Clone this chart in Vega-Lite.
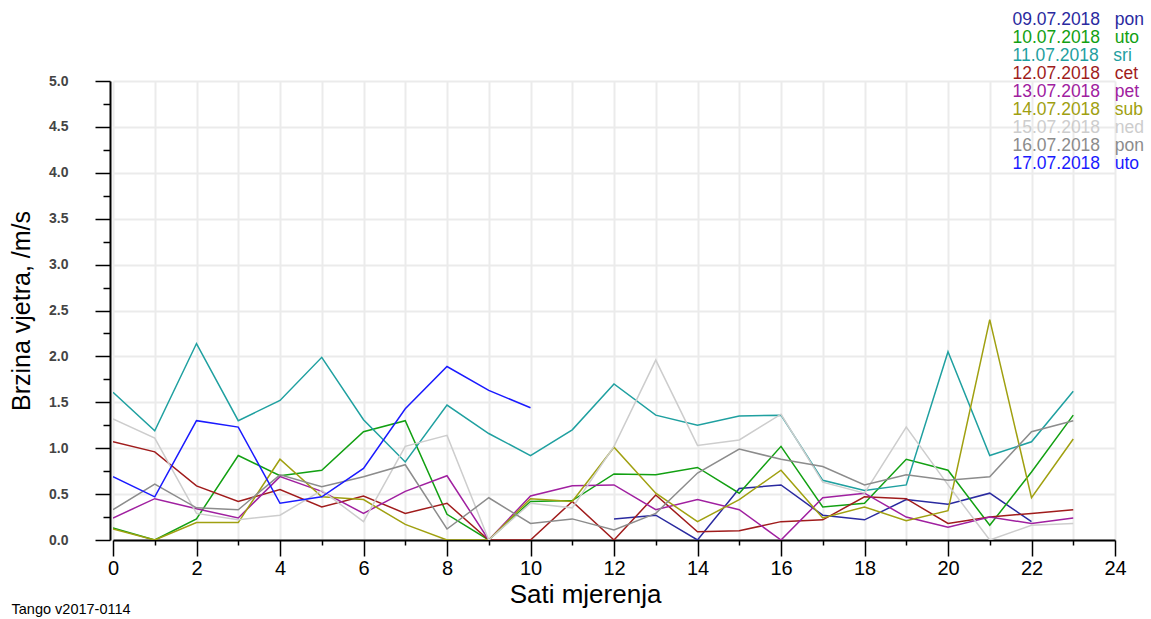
{
  "$schema": "https://vega.github.io/schema/vega-lite/v6.json",
  "autosize": "none",
  "width": 1002,
  "height": 459,
  "padding": {"left": 113, "top": 81, "right": 36, "bottom": 79},
  "background": "white",
  "title": {"text": "Tango v2017-0114", "orient": "bottom", "anchor": "start", "frame": "bounds", "font": "Liberation Sans", "fontSize": 14.5, "fontWeight": "normal", "color": "#000", "offset": -4, "dx": 2},
  "config": {"view": {"stroke": null}, "font": "Liberation Sans"},
  "data": {"values": [
    {"d":"09.07.2018 pon","h":12,"v":0.23},{"d":"09.07.2018 pon","h":13,"v":0.27},{"d":"09.07.2018 pon","h":14,"v":0},{"d":"09.07.2018 pon","h":15,"v":0.56},{"d":"09.07.2018 pon","h":16,"v":0.60},{"d":"09.07.2018 pon","h":17,"v":0.27},{"d":"09.07.2018 pon","h":18,"v":0.22},{"d":"09.07.2018 pon","h":19,"v":0.44},{"d":"09.07.2018 pon","h":20,"v":0.39},{"d":"09.07.2018 pon","h":21,"v":0.51},{"d":"09.07.2018 pon","h":22,"v":0.20},
    {"d":"10.07.2018 uto","h":0,"v":0.13},{"d":"10.07.2018 uto","h":1,"v":0},{"d":"10.07.2018 uto","h":2,"v":0.23},{"d":"10.07.2018 uto","h":3,"v":0.92},{"d":"10.07.2018 uto","h":4,"v":0.70},{"d":"10.07.2018 uto","h":5,"v":0.76},{"d":"10.07.2018 uto","h":6,"v":1.18},{"d":"10.07.2018 uto","h":7,"v":1.30},{"d":"10.07.2018 uto","h":8,"v":0.28},{"d":"10.07.2018 uto","h":9,"v":0},{"d":"10.07.2018 uto","h":10,"v":0.42},{"d":"10.07.2018 uto","h":11,"v":0.43},{"d":"10.07.2018 uto","h":12,"v":0.72},{"d":"10.07.2018 uto","h":13,"v":0.71},{"d":"10.07.2018 uto","h":14,"v":0.79},{"d":"10.07.2018 uto","h":15,"v":0.51},{"d":"10.07.2018 uto","h":16,"v":1.02},{"d":"10.07.2018 uto","h":17,"v":0.36},{"d":"10.07.2018 uto","h":18,"v":0.40},{"d":"10.07.2018 uto","h":19,"v":0.88},{"d":"10.07.2018 uto","h":20,"v":0.76},{"d":"10.07.2018 uto","h":21,"v":0.16},{"d":"10.07.2018 uto","h":22,"v":0.74},{"d":"10.07.2018 uto","h":23,"v":1.36},
    {"d":"11.07.2018 sri","h":0,"v":1.61},{"d":"11.07.2018 sri","h":1,"v":1.19},{"d":"11.07.2018 sri","h":2,"v":2.14},{"d":"11.07.2018 sri","h":3,"v":1.30},{"d":"11.07.2018 sri","h":4,"v":1.52},{"d":"11.07.2018 sri","h":5,"v":1.99},{"d":"11.07.2018 sri","h":6,"v":1.31},{"d":"11.07.2018 sri","h":7,"v":0.85},{"d":"11.07.2018 sri","h":8,"v":1.47},{"d":"11.07.2018 sri","h":9,"v":1.16},{"d":"11.07.2018 sri","h":10,"v":0.92},{"d":"11.07.2018 sri","h":11,"v":1.20},{"d":"11.07.2018 sri","h":12,"v":1.70},{"d":"11.07.2018 sri","h":13,"v":1.36},{"d":"11.07.2018 sri","h":14,"v":1.25},{"d":"11.07.2018 sri","h":15,"v":1.35},{"d":"11.07.2018 sri","h":16,"v":1.36},{"d":"11.07.2018 sri","h":17,"v":0.65},{"d":"11.07.2018 sri","h":18,"v":0.54},{"d":"11.07.2018 sri","h":19,"v":0.60},{"d":"11.07.2018 sri","h":20,"v":2.05},{"d":"11.07.2018 sri","h":21,"v":0.92},{"d":"11.07.2018 sri","h":22,"v":1.07},{"d":"11.07.2018 sri","h":23,"v":1.62},
    {"d":"12.07.2018 cet","h":0,"v":1.07},{"d":"12.07.2018 cet","h":1,"v":0.96},{"d":"12.07.2018 cet","h":2,"v":0.59},{"d":"12.07.2018 cet","h":3,"v":0.42},{"d":"12.07.2018 cet","h":4,"v":0.55},{"d":"12.07.2018 cet","h":5,"v":0.36},{"d":"12.07.2018 cet","h":6,"v":0.48},{"d":"12.07.2018 cet","h":7,"v":0.29},{"d":"12.07.2018 cet","h":8,"v":0.40},{"d":"12.07.2018 cet","h":9,"v":0},{"d":"12.07.2018 cet","h":10,"v":0},{"d":"12.07.2018 cet","h":11,"v":0.42},{"d":"12.07.2018 cet","h":12,"v":0},{"d":"12.07.2018 cet","h":13,"v":0.49},{"d":"12.07.2018 cet","h":14,"v":0.09},{"d":"12.07.2018 cet","h":15,"v":0.10},{"d":"12.07.2018 cet","h":16,"v":0.20},{"d":"12.07.2018 cet","h":17,"v":0.22},{"d":"12.07.2018 cet","h":18,"v":0.47},{"d":"12.07.2018 cet","h":19,"v":0.45},{"d":"12.07.2018 cet","h":20,"v":0.18},{"d":"12.07.2018 cet","h":21,"v":0.25},{"d":"12.07.2018 cet","h":22,"v":0.29},{"d":"12.07.2018 cet","h":23,"v":0.33},
    {"d":"13.07.2018 pet","h":0,"v":0.24},{"d":"13.07.2018 pet","h":1,"v":0.45},{"d":"13.07.2018 pet","h":2,"v":0.34},{"d":"13.07.2018 pet","h":3,"v":0.24},{"d":"13.07.2018 pet","h":4,"v":0.69},{"d":"13.07.2018 pet","h":5,"v":0.53},{"d":"13.07.2018 pet","h":6,"v":0.29},{"d":"13.07.2018 pet","h":7,"v":0.53},{"d":"13.07.2018 pet","h":8,"v":0.70},{"d":"13.07.2018 pet","h":9,"v":0},{"d":"13.07.2018 pet","h":10,"v":0.48},{"d":"13.07.2018 pet","h":11,"v":0.59},{"d":"13.07.2018 pet","h":12,"v":0.60},{"d":"13.07.2018 pet","h":13,"v":0.33},{"d":"13.07.2018 pet","h":14,"v":0.44},{"d":"13.07.2018 pet","h":15,"v":0.33},{"d":"13.07.2018 pet","h":16,"v":0},{"d":"13.07.2018 pet","h":17,"v":0.46},{"d":"13.07.2018 pet","h":18,"v":0.51},{"d":"13.07.2018 pet","h":19,"v":0.25},{"d":"13.07.2018 pet","h":20,"v":0.14},{"d":"13.07.2018 pet","h":21,"v":0.25},{"d":"13.07.2018 pet","h":22,"v":0.18},{"d":"13.07.2018 pet","h":23,"v":0.24},
    {"d":"14.07.2018 sub","h":0,"v":0.12},{"d":"14.07.2018 sub","h":1,"v":0},{"d":"14.07.2018 sub","h":2,"v":0.19},{"d":"14.07.2018 sub","h":3,"v":0.19},{"d":"14.07.2018 sub","h":4,"v":0.88},{"d":"14.07.2018 sub","h":5,"v":0.47},{"d":"14.07.2018 sub","h":6,"v":0.44},{"d":"14.07.2018 sub","h":7,"v":0.17},{"d":"14.07.2018 sub","h":8,"v":0},{"d":"14.07.2018 sub","h":9,"v":0},{"d":"14.07.2018 sub","h":10,"v":0.45},{"d":"14.07.2018 sub","h":11,"v":0.42},{"d":"14.07.2018 sub","h":12,"v":1.01},{"d":"14.07.2018 sub","h":13,"v":0.51},{"d":"14.07.2018 sub","h":14,"v":0.20},{"d":"14.07.2018 sub","h":15,"v":0.44},{"d":"14.07.2018 sub","h":16,"v":0.76},{"d":"14.07.2018 sub","h":17,"v":0.24},{"d":"14.07.2018 sub","h":18,"v":0.36},{"d":"14.07.2018 sub","h":19,"v":0.21},{"d":"14.07.2018 sub","h":20,"v":0.32},{"d":"14.07.2018 sub","h":21,"v":2.40},{"d":"14.07.2018 sub","h":22,"v":0.46},{"d":"14.07.2018 sub","h":23,"v":1.10},
    {"d":"15.07.2018 ned","h":0,"v":1.32},{"d":"15.07.2018 ned","h":1,"v":1.11},{"d":"15.07.2018 ned","h":2,"v":0.29},{"d":"15.07.2018 ned","h":3,"v":0.22},{"d":"15.07.2018 ned","h":4,"v":0.27},{"d":"15.07.2018 ned","h":5,"v":0.54},{"d":"15.07.2018 ned","h":6,"v":0.20},{"d":"15.07.2018 ned","h":7,"v":1.02},{"d":"15.07.2018 ned","h":8,"v":1.14},{"d":"15.07.2018 ned","h":9,"v":0},{"d":"15.07.2018 ned","h":10,"v":0.40},{"d":"15.07.2018 ned","h":11,"v":0.35},{"d":"15.07.2018 ned","h":12,"v":1.02},{"d":"15.07.2018 ned","h":13,"v":1.96},{"d":"15.07.2018 ned","h":14,"v":1.03},{"d":"15.07.2018 ned","h":15,"v":1.09},{"d":"15.07.2018 ned","h":16,"v":1.37},{"d":"15.07.2018 ned","h":17,"v":0.63},{"d":"15.07.2018 ned","h":18,"v":0.51},{"d":"15.07.2018 ned","h":19,"v":1.23},{"d":"15.07.2018 ned","h":20,"v":0.60},{"d":"15.07.2018 ned","h":21,"v":0},{"d":"15.07.2018 ned","h":22,"v":0.16},{"d":"15.07.2018 ned","h":23,"v":0.18},
    {"d":"16.07.2018 pon","h":0,"v":0.33},{"d":"16.07.2018 pon","h":1,"v":0.61},{"d":"16.07.2018 pon","h":2,"v":0.35},{"d":"16.07.2018 pon","h":3,"v":0.33},{"d":"16.07.2018 pon","h":4,"v":0.71},{"d":"16.07.2018 pon","h":5,"v":0.58},{"d":"16.07.2018 pon","h":6,"v":0.69},{"d":"16.07.2018 pon","h":7,"v":0.82},{"d":"16.07.2018 pon","h":8,"v":0.12},{"d":"16.07.2018 pon","h":9,"v":0.46},{"d":"16.07.2018 pon","h":10,"v":0.18},{"d":"16.07.2018 pon","h":11,"v":0.23},{"d":"16.07.2018 pon","h":12,"v":0.11},{"d":"16.07.2018 pon","h":13,"v":0.29},{"d":"16.07.2018 pon","h":14,"v":0.73},{"d":"16.07.2018 pon","h":15,"v":0.99},{"d":"16.07.2018 pon","h":16,"v":0.88},{"d":"16.07.2018 pon","h":17,"v":0.80},{"d":"16.07.2018 pon","h":18,"v":0.60},{"d":"16.07.2018 pon","h":19,"v":0.71},{"d":"16.07.2018 pon","h":20,"v":0.65},{"d":"16.07.2018 pon","h":21,"v":0.69},{"d":"16.07.2018 pon","h":22,"v":1.18},{"d":"16.07.2018 pon","h":23,"v":1.30},
    {"d":"17.07.2018 uto","h":0,"v":0.69},{"d":"17.07.2018 uto","h":1,"v":0.47},{"d":"17.07.2018 uto","h":2,"v":1.30},{"d":"17.07.2018 uto","h":3,"v":1.23},{"d":"17.07.2018 uto","h":4,"v":0.40},{"d":"17.07.2018 uto","h":5,"v":0.47},{"d":"17.07.2018 uto","h":6,"v":0.78},{"d":"17.07.2018 uto","h":7,"v":1.43},{"d":"17.07.2018 uto","h":8,"v":1.89},{"d":"17.07.2018 uto","h":9,"v":1.63},{"d":"17.07.2018 uto","h":10,"v":1.44}
  ]},
  "mark": {"type": "line", "strokeWidth": 1.5, "clip": true},
  "encoding": {
    "x": {"field": "h", "type": "quantitative",
      "scale": {"domain": [0, 24], "nice": false, "zero": false},
      "axis": {
        "title": "Sati mjerenja", "titleFont": "Liberation Sans", "titleFontSize": 26, "titleFontWeight": "normal", "titleColor": "#000",
        "titleX": 472, "titleY": 54, "titleAlign": "center", "titleBaseline": "middle",
        "values": [0,1,2,3,4,5,6,7,8,9,10,11,12,13,14,15,16,17,18,19,20,21,22,23,24],
        "labelExpr": "datum.value % 2 == 0 ? datum.label : ''",
        "labelFontSize": 20, "labelColor": "#000", "labelPadding": 2, "labelFlush": false,
        "tickSize": {"condition": {"test": "datum.value % 2 == 0", "value": 16}, "value": 5},
        "tickColor": "#000", "tickWidth": 1.5, "domainColor": "#000", "domainWidth": 2,
        "grid": true, "gridColor": "#ebebeb", "gridWidth": 2
      }},
    "y": {"field": "v", "type": "quantitative",
      "scale": {"domain": [0, 5], "nice": false},
      "axis": {
        "title": "Brzina vjetra, /m/s", "titleFont": "Liberation Sans", "titleFontSize": 25, "titleFontWeight": "normal", "titleColor": "#000", "titlePadding": 14,
        "values": [0,0.25,0.5,0.75,1,1.25,1.5,1.75,2,2.25,2.5,2.75,3,3.25,3.5,3.75,4,4.25,4.5,4.75,5],
        "labelExpr": "datum.value % 0.5 == 0 ? format(datum.value, '.1f') : ''",
        "labelFontSize": 14, "labelFontWeight": "bold", "labelColor": "#444", "labelPadding": 27,
        "tickSize": {"condition": {"test": "datum.value % 0.5 == 0", "value": 15}, "value": 7},
        "tickColor": "#000", "tickWidth": 1.5, "domainColor": "#000", "domainWidth": 2, "offset": 3,
        "grid": true, "gridColor": "#ebebeb", "gridWidth": 2,
        "gridOpacity": {"condition": {"test": "datum.value % 0.5 == 0", "value": 1}, "value": 0}
      }},
    "color": {"field": "d", "type": "nominal",
      "scale": {
        "domain": ["09.07.2018 pon","10.07.2018 uto","11.07.2018 sri","12.07.2018 cet","13.07.2018 pet","14.07.2018 sub","15.07.2018 ned","16.07.2018 pon","17.07.2018 uto"],
        "range": ["#2a2aa0","#12a012","#1fa0a0","#a01c1c","#a020a0","#a0a010","#cdcdcd","#8c8c8c","#1a1aff"]
      },
      "legend": {
        "title": null, "orient": "none", "legendX": 882, "legendY": -70,
        "symbolType": "circle", "symbolSize": 0, "symbolStrokeWidth": 0, "symbolOpacity": 0, "labelOffset": 0,
        "labelFont": "Liberation Sans", "labelFontSize": 17.5, "rowPadding": -1.8, "padding": 0,
        "labelExpr": "replace(datum.label, ' ', '\u00a0\u00a0\u00a0')",
        "labelLimit": 300,
        "encode": {"labels": {"update": {"fill": {"scale": "color", "field": "value"}}}}
      }}
  }
}
